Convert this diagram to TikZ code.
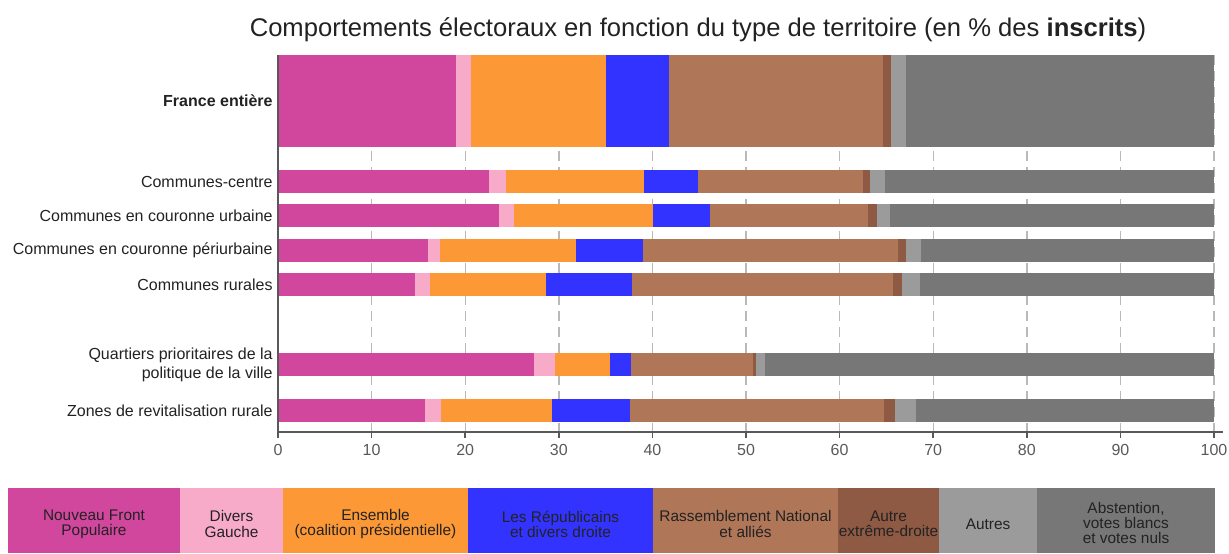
\documentclass[tikz,border=0pt]{standalone}
\usepackage{fontspec}
\setmainfont{Liberation Sans}
\usetikzlibrary{positioning}

\definecolor{nfp}{HTML}{D1479E}
\definecolor{dvg}{HTML}{F7ABC8}
\definecolor{ens}{HTML}{FC9835}
\definecolor{lr}{HTML}{3333FF}
\definecolor{rn}{HTML}{B07658}
\definecolor{aed}{HTML}{8F5A43}
\definecolor{autres}{HTML}{9B9B9B}
\definecolor{abst}{HTML}{777777}
\definecolor{texte}{HTML}{222222}

\begin{document}
\begin{tikzpicture}[x=0.5pt, y=-0.5pt, text=texte,
    etiquette/.style={anchor=east, inner sep=0pt, font=\fontsize{8}{9.5}\selectfont, align=right},
    legende/.style={inner sep=0pt, align=center, font=\fontsize{7.7}{7.6}\selectfont}]
    \useasboundingbox (0,0) rectangle (1229,553);

    % Titre du graphique
    \node (titre) at (698,30) {\fontsize{12.8}{15}\selectfont Comportements électoraux en fonction du type de territoire (en \% des \textbf{inscrits})};

    % Zone du graphique : x en % des inscrits
    \begin{scope}[shift={(278,0)}, x=4.68pt]
        % Grille verticale en pointillés
        \foreach \v in {10,20,...,100}
            \draw[gray!55, line width=0.7pt, dash pattern=on 5pt off 3pt] (\v,55) -- (\v,432);

        % Barres empilées (haut, bas, puis cumuls)
        \foreach \h/\b/\ca/\cb/\cc/\cd/\ce/\cf/\cg in {
            55/147/19.0/20.6/35.0/41.8/64.6/65.5/67.1,
            170/193/22.5/24.4/39.1/44.9/62.5/63.2/64.8,
            204/227/23.6/25.2/40.1/46.2/63.0/64.0/65.4,
            239/262/16.0/17.3/31.8/39.0/66.2/67.1/68.7,
            273/296/14.6/16.2/28.6/37.8/65.7/66.7/68.6,
            353/376/27.3/29.6/35.5/37.7/50.7/51.1/52.0,
            399/422/15.7/17.4/29.3/37.6/64.7/65.9/68.2} {
            \fill[nfp] (0,\h) rectangle (\ca,\b);
            \fill[dvg] (\ca,\h) rectangle (\cb,\b);
            \fill[ens] (\cb,\h) rectangle (\cc,\b);
            \fill[lr] (\cc,\h) rectangle (\cd,\b);
            \fill[rn] (\cd,\h) rectangle (\ce,\b);
            \fill[aed] (\ce,\h) rectangle (\cf,\b);
            \fill[autres] (\cf,\h) rectangle (\cg,\b);
            \fill[abst] (\cg,\h) rectangle (100,\b);
        }

        % Axes
        \draw[black!65, line width=0.8pt] (0,55) -- (0,438);
        \draw[black!65, line width=0.8pt] (0,432) -- (101,432);
        \foreach \v in {0,10,...,100}
            \draw[black!65, line width=0.8pt] (\v,432) -- (\v,438)
                node[below=3pt, inner sep=0pt, font=\fontsize{8}{9}\selectfont] (t\v) {\v};
    \end{scope}

    % Noms des territoires
    \node[etiquette, font=\fontsize{8}{9.5}\selectfont\bfseries] (france) at (273,101) {France entière};
    \node[etiquette] (centre) at (273,181.5) {Communes-centre};
    \node[etiquette] (urbaine) at (273,215.5) {Communes en couronne urbaine};
    \node[etiquette] (periurbaine) at (273,250.5) {Communes en couronne périurbaine};
    \node[etiquette] (rurales) at (273,284.5) {Communes rurales};
    \node[etiquette] (qpv) at (273,364.5) {Quartiers prioritaires de la\\politique de la ville};
    \node[etiquette] (zrr) at (273,410.5) {Zones de revitalisation rurale};

    % Légende (cases de couleur)
    \fill[nfp] (8,488) rectangle (180,553);
    \fill[dvg] (180,488) rectangle (283,553);
    \fill[ens] (283,488) rectangle (468,553);
    \fill[lr] (468,488) rectangle (653,553);
    \fill[rn] (653,488) rectangle (838,553);
    \fill[aed] (838,488) rectangle (939,553);
    \fill[autres] (939,488) rectangle (1037,553);
    \fill[abst] (1037,488) rectangle (1215,553);

    % Légende (textes)
    \node[legende] (l-nfp) at (94,524) {Nouveau Front\\Populaire};
    \node[legende] (l-dvg) at (231.5,524) {Divers\\Gauche};
    \node[legende] (l-ens) at (375.5,524) {Ensemble\\(coalition présidentielle)};
    \node[legende] (l-lr) at (560.5,524) {Les Républicains\\et divers droite};
    \node[legende] (l-rn) at (745.5,524) {Rassemblement National\\et alliés};
    \node[legende] (l-aed) at (888.5,524) {Autre\\extrême-droite};
    \node[legende] (l-autres) at (988,524) {Autres};
    \node[legende] (l-abst) at (1126,523) {Abstention,\\votes blancs\\et votes nuls};
\end{tikzpicture}
\end{document}
